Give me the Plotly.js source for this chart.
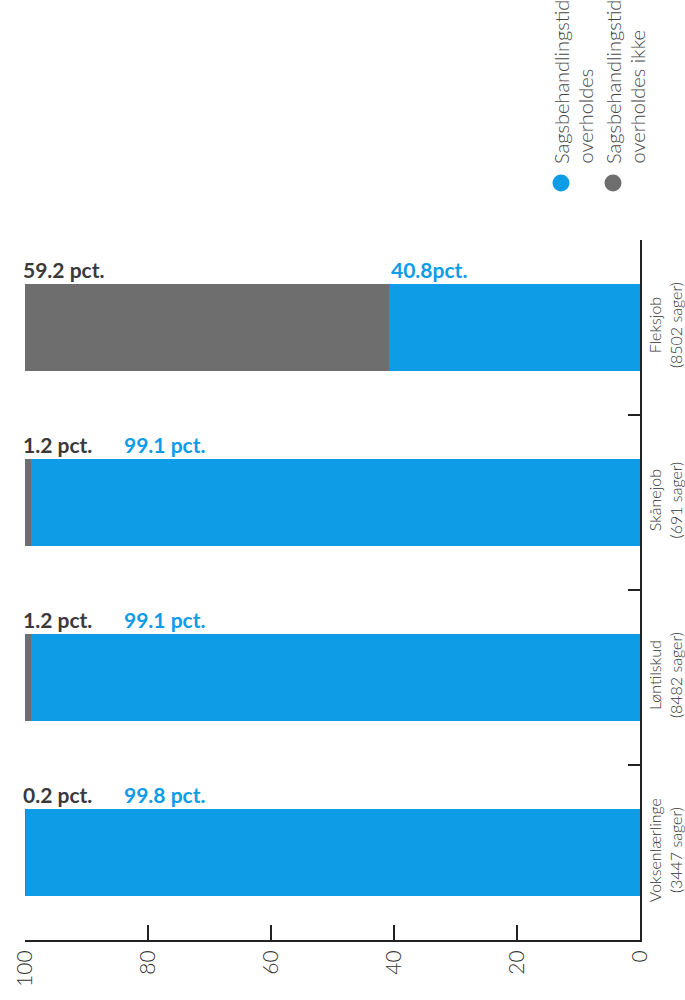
<!DOCTYPE html>
<html>
<head>
<meta charset="utf-8">
<script src="https://cdn.plot.ly/plotly-3.0.1.min.js"></script>
<style>html,body{margin:0;padding:0;background:#fff;}#chart{width:685px;height:1000px;}</style>
</head>
<body>
<div id="chart"></div>
<script>
// ---- data ----
const categoryNames = ["Voksenlærlinge", "Løntilskud", "Skånejob", "Fleksjob"];
const caseCounts = ["(3447 sager)", "(8482 sager)", "(691 sager)", "(8502 sager)"];
const metValues = [99.8, 99.1, 99.1, 40.8];      // Sagsbehandlingstid overholdes
const notMetValues = [0.2, 1.2, 1.2, 59.2];      // Sagsbehandlingstid overholdes ikke
const metLabels = ["99.8 pct.", "99.1 pct.", "99.1 pct.", "40.8pct."];
const notMetLabels = ["0.2 pct.", "1.2 pct.", "1.2 pct.", "59.2 pct."];
const legendNames = ["Sagsbehandlingstid<br>overholdes", "Sagsbehandlingstid<br>overholdes ikke"];
const xTickVals = [0, 20, 40, 60, 80, 100];

// ---- styles ----
const BLUE = "#0f9ce6";
const GRAY = "#6e6e6e";
const DARK = "#3a3a3a";
const FONT = "Lato, 'Open Sans', sans-serif";
const W = 685, H = 1000;
const M = {l: 25, r: 45, t: 240, b: 60};
const PW = W - M.l - M.r, PH = H - M.t - M.b;
const px2x = p => (p - M.l) / PW;
const px2y = p => (H - M.b - p) / PH;

const cats = categoryNames.map((n, i) => n + "<br>" + caseCounts[i]);

const traces = [
  {type: "bar", orientation: "h", y: cats, x: metValues, name: "met",
   marker: {color: BLUE, line: {width: 0}}, hoverinfo: "skip"},
  {type: "bar", orientation: "h", y: cats, x: notMetValues, name: "notmet",
   marker: {color: GRAY, line: {width: 0}}, hoverinfo: "skip"}
];

const annotations = [];
cats.forEach((c, i) => {
  annotations.push({xref: "x", yref: "y", x: 100, y: c, xanchor: "left", yanchor: "bottom",
    xshift: -4, yshift: 44, showarrow: false, text: notMetLabels[i],
    font: {family: FONT, size: 21, color: DARK, weight: 700}});
  const inside = metValues[i] < 90;
  annotations.push({xref: "x", yref: "y", x: inside ? metValues[i] : 100, y: c,
    xanchor: "left", yanchor: "bottom", xshift: inside ? 0 : 97, yshift: 44,
    showarrow: false, text: metLabels[i],
    font: {family: FONT, size: 21, color: BLUE, weight: 700}});
});

// rotated legend
const legendColors = [BLUE, GRAY];
const legendX = [561, 613];
const shapes = [];
legendNames.forEach((name, i) => {
  const lines = name.split("<br>");
  lines.forEach((ln, j) => {
    annotations.push({xref: "paper", yref: "paper", x: px2x(legendX[i] + j * 23), y: px2y(166),
      xanchor: "center", yanchor: "bottom", textangle: -90, showarrow: false, text: ln,
      font: {family: FONT, size: 20, color: "#444", weight: 300}});
  });
  shapes.push({type: "circle", xref: "paper", yref: "paper", xsizemode: "pixel", ysizemode: "pixel",
    xanchor: px2x(legendX[i]), yanchor: px2y(183), x0: -8.5, x1: 8.5, y0: -8.5, y1: 8.5,
    fillcolor: legendColors[i], line: {width: 0}});
});

const layout = {
  width: W, height: H,
  margin: M,
  paper_bgcolor: "#fff", plot_bgcolor: "#fff",
  barmode: "stack", bargap: 0.5,
  showlegend: false,
  font: {family: FONT, color: "#333"},
  xaxis: {range: [100, 0], tickvals: xTickVals, ticks: "inside", ticklen: 15, tickwidth: 2,
    tickcolor: "#222", showline: true, linewidth: 2, linecolor: "#222", showgrid: false,
    zeroline: false, tickangle: -90, tickfont: {family: FONT, size: 21, color: "#333", weight: 300},
    fixedrange: true},
  yaxis: {side: "right", type: "category", categoryorder: "array", categoryarray: cats,
    ticks: "inside", tickson: "boundaries", ticklen: 12, tickwidth: 2, tickcolor: "#222",
    showline: true, linewidth: 2, linecolor: "#222", showgrid: false, zeroline: false,
    tickangle: -90, tickfont: {family: FONT, size: 16, color: "#333", weight: 300}, fixedrange: true},
  annotations: annotations,
  shapes: shapes
};

Plotly.newPlot("chart", traces, layout, {displayModeBar: false, staticPlot: true});
</script>
</body>
</html>
